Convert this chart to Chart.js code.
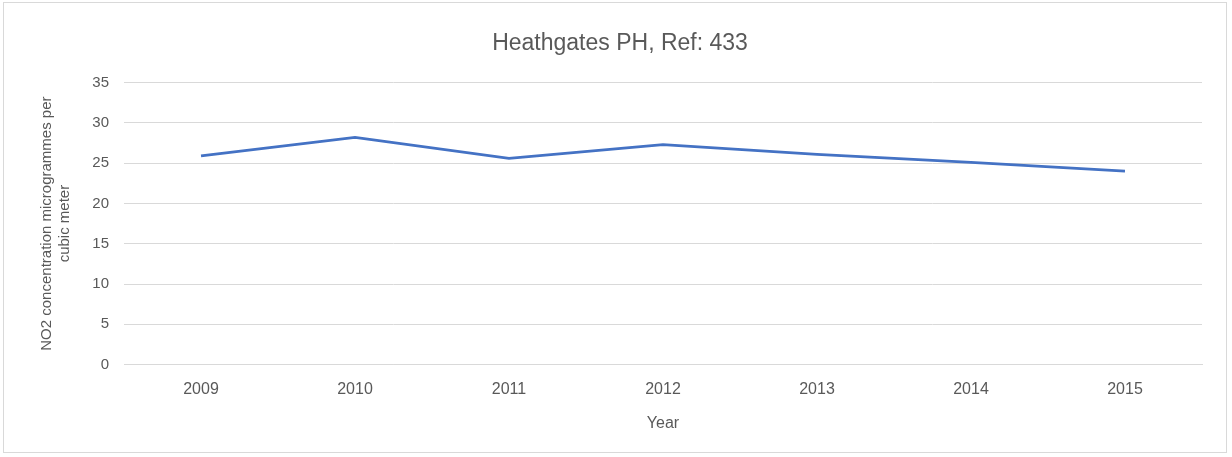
<!DOCTYPE html>
<html>
<head>
<meta charset="utf-8">
<script src="https://cdn.jsdelivr.net/npm/chart.js@4.4.1/dist/chart.umd.min.js"></script>
<style>
  html, body { margin: 0; padding: 0; background: #ffffff; }
  #wrap { position: absolute; left: 3px; top: 2px; width: 1224px; height: 451px; border: 1px solid #d9d9d9; box-sizing: border-box; background: #fff; }
  canvas { display: block; }
</style>
</head>
<body>
<div id="wrap"><canvas id="c" width="1222" height="449"></canvas></div>
<script>
const categories = ["2009", "2010", "2011", "2012", "2013", "2014", "2015"];
const no2Values = [25.9, 28.2, 25.6, 27.3, 26.1, 25.1, 24.0];
const yTicks = [0, 5, 10, 15, 20, 25, 30, 35];
const chartTitle = "Heathgates PH, Ref: 433";
const xTitle = "Year";
const yTitle = ["NO2 concentration microgrammes per", "cubic meter"];

const grey = "#595959";
const fontFamily = "'Liberation Sans', 'DejaVu Sans', sans-serif";

new Chart(document.getElementById("c"), {
  type: "line",
  data: {
    labels: categories,
    datasets: [{
      label: "NO2",
      data: no2Values,
      borderColor: "#4472C4",
      backgroundColor: "#4472C4",
      borderWidth: 2.75,
      pointRadius: 0,
      tension: 0,
      fill: false
    }]
  },
  options: {
    responsive: false,
    animation: false,
    devicePixelRatio: 1,
    layout: { padding: { left: 34, right: 24, top: 15, bottom: 19 } },
    plugins: {
      legend: { display: false },
      tooltip: { enabled: false },
      title: {
        display: true,
        text: chartTitle,
        color: grey,
        font: { family: fontFamily, size: 23, weight: "normal" },
        padding: { top: 12, bottom: 25 }
      }
    },
    scales: {
      x: {
        offset: true,
        grid: { display: false, drawTicks: false, offset: true },
        border: { display: true, color: "#d9d9d9", width: 1 },
        ticks: { color: grey, font: { family: fontFamily, size: 16 }, padding: 15 },
        title: { display: true, text: xTitle, color: grey, font: { family: fontFamily, size: 16 }, padding: { top: 0, bottom: 0 } }
      },
      y: {
        min: 0,
        max: 35,
        afterBuildTicks: (s) => { s.ticks = yTicks.map(v => ({ value: v })); },
        afterFit: (s) => { s.width = 86; },
        grid: { color: "#d9d9d9", lineWidth: 1, drawTicks: false },
        border: { display: false },
        ticks: { color: grey, font: { family: fontFamily, size: 15 }, padding: 15 },
        title: { display: true, text: yTitle, color: grey, font: { family: fontFamily, size: 15 }, padding: { top: 0, bottom: 4 } }
      }
    }
  }
});
</script>
</body>
</html>
